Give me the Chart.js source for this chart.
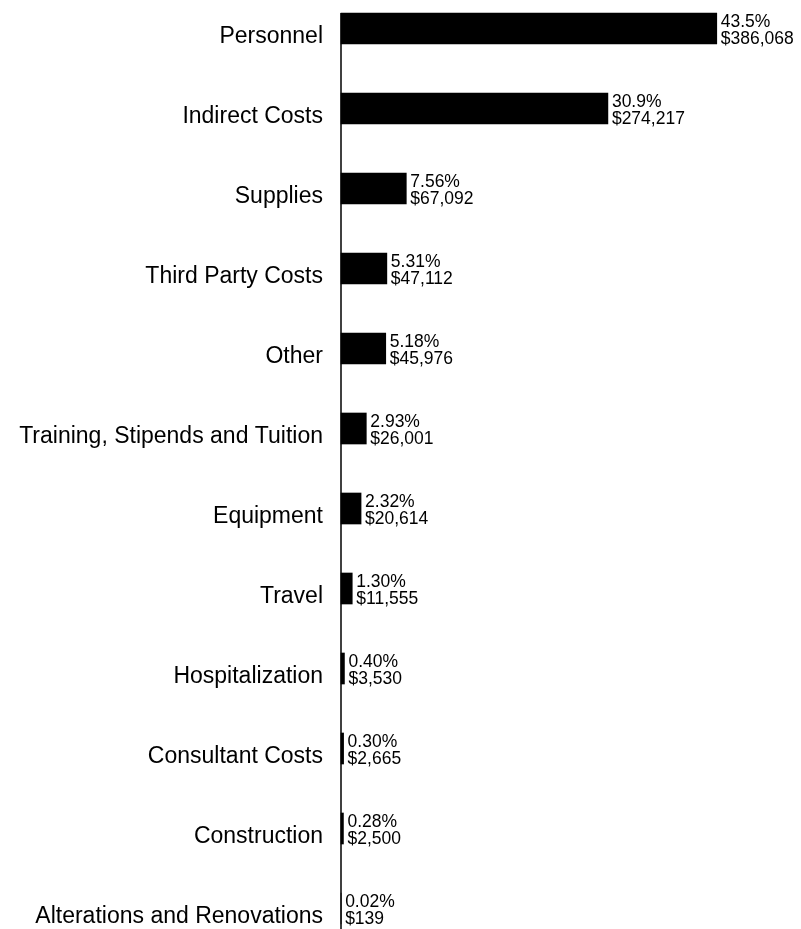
<!DOCTYPE html>
<html>
<head>
<meta charset="utf-8">
<script src="https://cdn.jsdelivr.net/npm/chart.js@4.4.1/dist/chart.umd.min.js"></script>
<style>
  html, body { margin: 0; padding: 0; background: #fff; }
  canvas { display: block; }
</style>
</head>
<body>
<canvas id="budgetChart" width="801" height="929"></canvas>
<script>
// Data
const categories = [
  "Personnel", "Indirect Costs", "Supplies", "Third Party Costs", "Other",
  "Training, Stipends and Tuition", "Equipment", "Travel", "Hospitalization",
  "Consultant Costs", "Construction", "Alterations and Renovations"
];
const amounts = [386068, 274217, 67092, 47112, 45976, 26001, 20614, 11555, 3530, 2665, 2500, 139];
const percents = ["43.5%", "30.9%", "7.56%", "5.31%", "5.18%", "2.93%", "2.32%", "1.30%", "0.40%", "0.30%", "0.28%", "0.02%"];
const amountLabels = amounts.map(v => "$" + v.toLocaleString("en-US"));

const FONT = '"Liberation Sans", Arial, Helvetica, sans-serif';
Chart.defaults.font.family = FONT;
Chart.defaults.color = "#000";

// Two-line value labels to the right of each bar
const valueLabels = {
  id: "valueLabels",
  afterDatasetsDraw(chart) {
    const ctx = chart.ctx;
    const meta = chart.getDatasetMeta(0);
    ctx.save();
    ctx.fillStyle = "#000";
    ctx.font = "17.5px " + FONT;
    ctx.textAlign = "left";
    ctx.textBaseline = "alphabetic";
    meta.data.forEach((bar, i) => {
      ctx.fillText(percents[i], bar.x + 4, bar.y - 2);
      ctx.fillText(amountLabels[i], bar.x + 4, bar.y + 15);
    });
    ctx.restore();
  }
};

// Vertical baseline from the first bar down to the bottom edge
const baseLine = {
  id: "baseLine",
  afterDatasetsDraw(chart) {
    const ctx = chart.ctx;
    const first = chart.getDatasetMeta(0).data[0];
    const x = chart.scales.x.getPixelForValue(0);
    ctx.save();
    ctx.strokeStyle = "#000";
    ctx.lineWidth = 1.5;
    ctx.beginPath();
    ctx.moveTo(x, first.y - first.height / 2);
    ctx.lineTo(x, chart.height);
    ctx.stroke();
    ctx.restore();
  }
};

new Chart(document.getElementById("budgetChart"), {
  type: "bar",
  data: {
    labels: categories,
    datasets: [{
      data: amounts,
      backgroundColor: "#000",
      borderWidth: 0,
      barThickness: 31,
      clip: false
    }]
  },
  options: {
    responsive: false,
    animation: false,
    indexAxis: "y",
    layout: { padding: { top: 28.5, bottom: 20.5, left: 0, right: 22 } },
    plugins: { legend: { display: false }, tooltip: { enabled: false } },
    scales: {
      x: { display: false, min: 0, max: 450000 },
      y: {
        offset: false,
        grid: { display: false, drawTicks: false },
        border: { display: false },
        ticks: { color: "#000", font: { size: 23 }, padding: 18, labelOffset: 8, autoSkip: false },
        afterFit(scale) {
          scale.width = 341;
          scale.paddingTop = 0;
          scale.paddingBottom = 0;
        }
      }
    }
  },
  plugins: [valueLabels, baseLine]
});
</script>
</body>
</html>
